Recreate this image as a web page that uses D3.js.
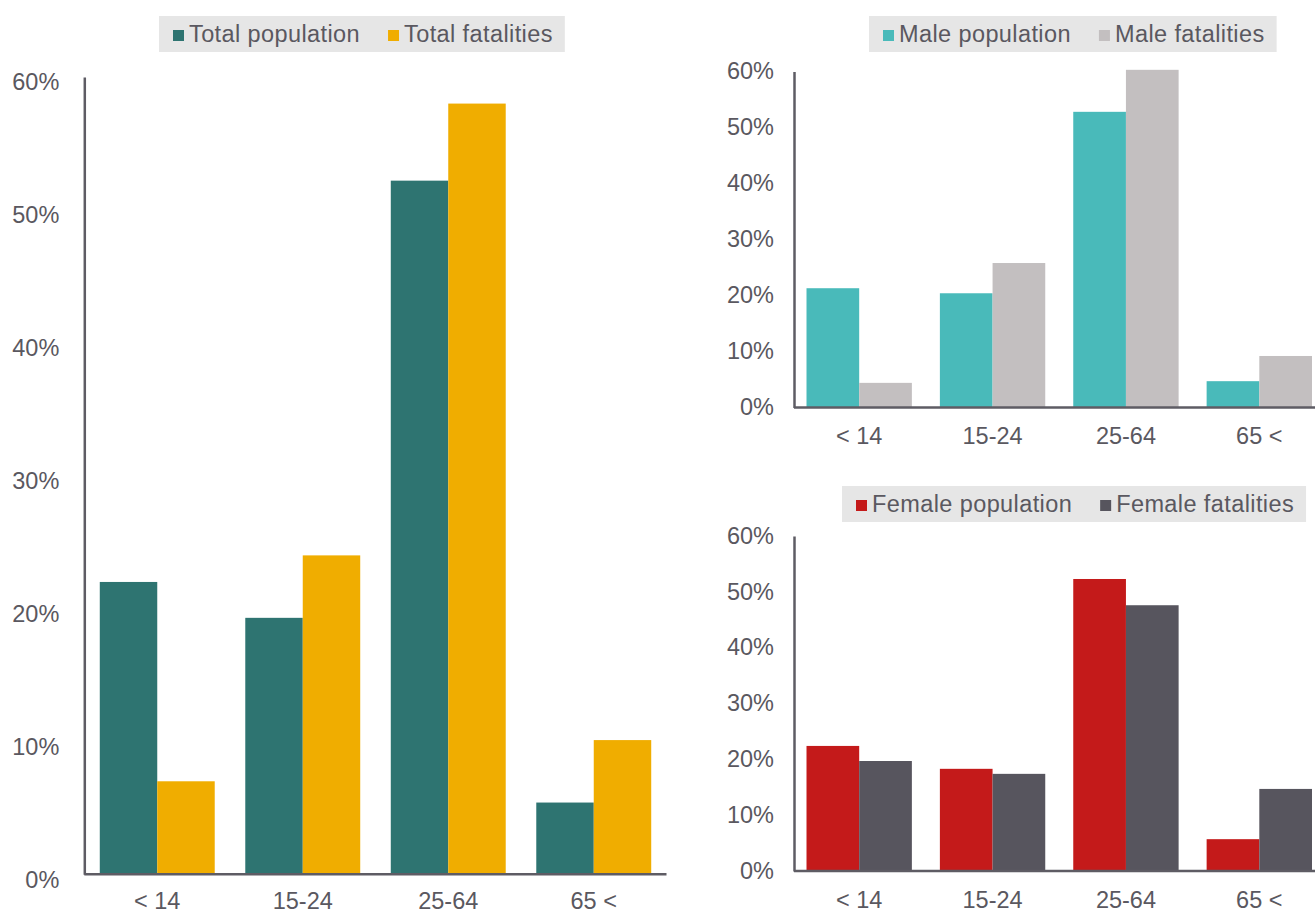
<!DOCTYPE html>
<html>
<head>
<meta charset="utf-8">
<script src="https://cdn.jsdelivr.net/npm/d3@7"></script>
<style>
  html, body { margin: 0; padding: 0; background: #ffffff; }
  svg { display: block; }
  text { font-family: "Liberation Sans", Arial, Helvetica, sans-serif; fill: #5a5860; }
</style>
</head>
<body>
<svg id="chart" width="1315" height="914"></svg>
<script>
// Age groups shown on every panel
const categories = ["< 14", "15-24", "25-64", "65 <"];

// Share of each age group, in percent
const totalPopulation  = [22.0, 19.3, 52.2, 5.4];
const totalFatalities  = [7.0, 24.0, 58.0, 10.1];
const malePopulation   = [21.3, 20.4, 52.8, 4.7];
const maleFatalities   = [4.4, 25.8, 60.3, 9.2];
const femalePopulation = [22.4, 18.3, 52.3, 5.7];
const femaleFatalities = [19.7, 17.4, 47.6, 14.7];

// Value-axis ticks (percent)
const yTicks = [0, 10, 20, 30, 40, 50, 60];

const svg = d3.select("#chart");
const FONT = 23.5;
const AXIS_COLOR = "#5e5c64";

const panels = [
  {
    bandRange: [84.5, 666.5], axisX: 84.3, yRange: [874.3, 77],
    labelDx: -25, labelDy: 4.5, xLabelOffset: 34.5,
    legend: { x: 159, y: 16, h: 36 },
    series: [
      { name: "Total population", values: totalPopulation, color: "#2e7471" },
      { name: "Total fatalities", values: totalFatalities, color: "#f0ad00" }
    ]
  },
  {
    bandRange: [792.5, 1326], axisX: 794, yRange: [407.5, 71.5],
    labelDx: -20, labelDy: -1.5, xLabelOffset: 36,
    legend: { x: 869, y: 16, h: 36 },
    series: [
      { name: "Male population", values: malePopulation, color: "#49baba" },
      { name: "Male fatalities", values: maleFatalities, color: "#c3bfc0" }
    ]
  },
  {
    bandRange: [792.5, 1326], axisX: 794, yRange: [871, 536],
    labelDx: -20, labelDy: -1, xLabelOffset: 37,
    legend: { x: 842, y: 486, h: 36 },
    series: [
      { name: "Female population", values: femalePopulation, color: "#c41a1a" },
      { name: "Female fatalities", values: femaleFatalities, color: "#57555e" }
    ]
  }
];

panels.forEach(p => {
  const g = svg.append("g");

  const x = d3.scaleBand()
    .domain(categories)
    .range(p.bandRange)
    .paddingInner(0.21)
    .paddingOuter(0.105);

  const xInner = d3.scaleBand()
    .domain(p.series.map(s => s.name))
    .range([0, x.bandwidth()]);

  const y = d3.scaleLinear().domain([0, 60]).range(p.yRange);

  // Bars
  p.series.forEach(s => {
    g.append("g")
      .selectAll("rect")
      .data(categories.map((c, i) => ({ c, v: s.values[i] })))
      .join("rect")
      .attr("x", d => x(d.c) + xInner(s.name))
      .attr("y", d => y(d.v))
      .attr("width", xInner.bandwidth())
      .attr("height", d => y(0) - y(d.v))
      .attr("fill", s.color);
  });

  // Value axis
  const yAxis = g.append("g")
    .attr("transform", `translate(${p.axisX},0)`)
    .call(d3.axisLeft(y).tickValues(yTicks).tickSize(0).tickSizeOuter(0)
      .tickFormat(d => d + "%"));
  yAxis.select(".domain").attr("stroke", AXIS_COLOR).attr("stroke-width", 2.5);
  yAxis.selectAll(".tick text")
    .attr("x", p.labelDx)
    .attr("dy", "0.35em")
    .attr("transform", `translate(0,${p.labelDy})`)
    .style("font-size", FONT + "px")
    .style("font-family", "'Liberation Sans', Arial, sans-serif")
    .attr("fill", "#5a5860");

  // Category axis
  const xAxis = g.append("g")
    .attr("transform", `translate(0,${y(0)})`)
    .call(d3.axisBottom(x).tickSize(0).tickSizeOuter(0));
  xAxis.select(".domain").attr("stroke", AXIS_COLOR).attr("stroke-width", 2.5)
    .attr("d", `M${p.axisX},0H${p.bandRange[1]}`);
  xAxis.selectAll(".tick text")
    .attr("y", p.xLabelOffset)
    .attr("dy", 0)
    .style("font-size", FONT + "px")
    .style("font-family", "'Liberation Sans', Arial, sans-serif")
    .attr("fill", "#5a5860");

  // Legend with shaded background
  const lg = svg.append("g").attr("transform", `translate(${p.legend.x},${p.legend.y})`);
  const bg = lg.append("rect").attr("height", p.legend.h).attr("fill", "#e6e6e6");
  let cx = 14;
  p.series.forEach((s, i) => {
    lg.append("rect")
      .attr("x", cx).attr("y", p.legend.h / 2 - 4)
      .attr("width", 11).attr("height", 11)
      .attr("fill", s.color);
    const t = lg.append("text")
      .attr("x", cx + 16).attr("y", p.legend.h / 2)
      .attr("dy", "0.36em")
      .style("font-size", FONT + "px")
      .style("letter-spacing", "0.4px")
      .text(s.name);
    cx += 16 + t.node().getComputedTextLength();
    if (i < p.series.length - 1) cx += 28;
  });
  bg.attr("width", cx + 12);
});
</script>
</body>
</html>
